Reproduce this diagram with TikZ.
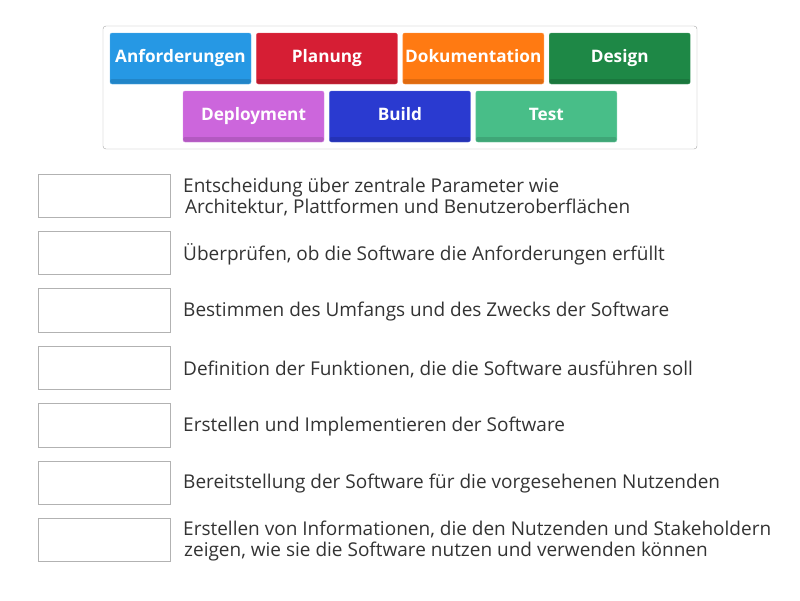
\documentclass[tikz,border=0pt]{standalone}
\usepackage{fontspec}
\setmainfont{Open Sans}
\usetikzlibrary{positioning}

\definecolor{anfblue}{RGB}{38,152,228}
\definecolor{planred}{RGB}{214,30,52}
\definecolor{dokuorange}{RGB}{255,122,18}
\definecolor{designgreen}{RGB}{30,136,70}
\definecolor{deplviolet}{RGB}{204,102,220}
\definecolor{buildblue}{RGB}{42,58,208}
\definecolor{testgreen}{RGB}{72,190,136}
\definecolor{textgray}{RGB}{51,51,51}

\tikzset{
	tile/.style={fill=#1, draw=#1!75!white, rounded corners=2pt, minimum width=141pt, minimum height=51pt,
		text=white, font=\fontsize{17.2}{20}\selectfont\bfseries, inner sep=0pt, text height=.84em, text depth=.10em,
		path picture={\fill[black,opacity=.12] ([yshift=5pt]path picture bounding box.south west) rectangle (path picture bounding box.south east);}},
	answerbox/.style={draw=gray!60, fill=white, minimum width=132pt, minimum height=43.5pt, inner sep=0pt},
	cluetext/.style={anchor=west, align=left, text=textgray, font=\fontsize{19}{21}\selectfont, inner sep=0pt}
}

\begin{document}
\begin{tikzpicture}[x=1pt, y=-1pt, node distance=5pt]
	\useasboundingbox (0,0) rectangle (800,600);
			\draw[gray!70, rounded corners=3pt] (103,26) rectangle (697,149);
				\node[tile=anfblue] (anf) at (180.5,58.5) {Anforderungen};
				\node[tile=planred, right=of anf] (plan) {Planung};
				\node[tile=dokuorange, right=of plan] (doku) {Dokumentation};
				\node[tile=designgreen, right=of doku] (design) {Design};
				\node[tile=deplviolet] (depl) at (253.5,116.5) {Deployment};
				\node[tile=buildblue, right=of depl] (build) {Build};
				\node[tile=testgreen, right=of build] (test) {Test};
				\foreach \i/\cluetxt in {
					1/{Entscheidung über zentrale Parameter wie\\\hspace{2pt}Architektur, Plattformen und Benutzeroberflächen},
					2/{Überprüfen, ob die Software die Anforderungen erfüllt},
					3/{Bestimmen des Umfangs und des Zwecks der Software},
					4/{Definition der Funktionen, die die Software ausführen soll},
					5/{Erstellen und Implementieren der Software},
					6/{Bereitstellung der Software für die vorgesehenen Nutzenden},
					7/{Erstellen von Informationen, die den Nutzenden und Stakeholdern\\\hspace{1pt}zeigen, wie sie die Software nutzen und verwenden können}}
				{
					\node[answerbox] (box\i) at (104,{195.5+(\i-1)*57.4}) {};
					\node[cluetext] (clue\i) at (183,{197+(\i-1)*57.4}) {\cluetxt};
				}
\end{tikzpicture}
\end{document}
